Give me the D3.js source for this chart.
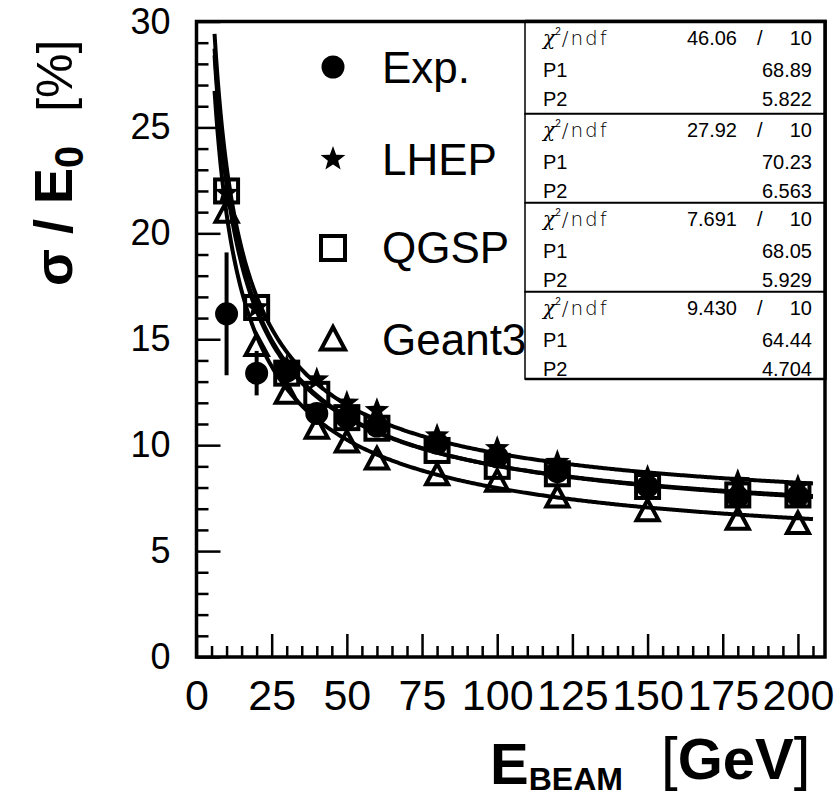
<!DOCTYPE html>
<html>
<head>
<meta charset="utf-8">
<script src="https://cdn.jsdelivr.net/npm/d3@7"></script>
<style>
  body { margin: 0; background: #fff; }
  svg { display: block; }
  text { font-family: "Liberation Sans", Arial, Helvetica, sans-serif; fill: #000; }
</style>
</head>
<body>
<div id="chart"></div>
<script>
// Energy resolution vs beam energy – data + fits
const energies   = [10, 20, 30, 40, 50, 60, 80, 100, 120, 150, 180, 200];
const expVals    = [16.2, 13.4, 13.5, 11.5, 11.3, 10.9, 10.1, 9.45, 8.75, 8.05, 7.55, 7.6];
const expErrs    = [2.9, 1.05, 0.4, 0.3, 0.25, 0.25, 0.2, 0.2, 0.2, 0.2, 0.2, 0.2];
const lhepVals   = [21.9, 16.5, 13.7, 13.1, 12.0, 11.65, 10.45, 9.85, 9.2, 8.5, 8.3, 8.05];
const qgspVals   = [22.0, 16.5, 13.4, 12.4, 11.3, 10.8, 9.75, 9.0, 8.65, 8.05, 7.65, 7.65];
const geant3Vals = [21.0, 14.7, 12.45, 10.8, 10.15, 9.35, 8.6, 8.3, 7.55, 6.9, 6.5, 6.3];

const seriesNames = ["Exp.", "LHEP", "QGSP", "Geant3"];
const chi2 = ["46.06", "27.92", "7.691", "9.430"];
const ndf  = ["10", "10", "10", "10"];
const p1   = ["68.89", "70.23", "68.05", "64.44"];
const p2   = ["5.822", "6.563", "5.929", "4.704"];

const xTicks = [0, 25, 50, 75, 100, 125, 150, 175, 200];
const yTicks = [0, 5, 10, 15, 20, 25, 30];
const fitRange = [6, 205];

const W = 834, H = 797;
const svg = d3.select("#chart").append("svg").attr("width", W).attr("height", H);

const x = d3.scaleLinear().domain([0, 209]).range([196.5, 825]);
const y = d3.scaleLinear().domain([0, 30]).range([657, 21.5]);

// ticks (inside, ROOT style)
const xMinor = d3.range(0, 209, 5).filter(v => v % 25 !== 0);
const yMinor = d3.range(0, 30, 1).filter(v => v % 5 !== 0);

svg.append("g").attr("transform", `translate(0,${y(0)})`)
  .call(d3.axisBottom(x).tickValues(xMinor).tickSize(-11).tickFormat(""))
  .call(g => g.select(".domain").remove())
  .selectAll("line").attr("stroke-width", 2.5);

svg.append("g").attr("transform", `translate(0,${y(0)})`)
  .call(d3.axisBottom(x).tickValues(xTicks).tickSize(-23).tickPadding(22).tickFormat(d3.format("d")))
  .call(g => g.select(".domain").remove())
  .call(g => g.selectAll("line").attr("stroke-width", 2.5))
  .call(g => g.selectAll("text").attr("font-size", 43).attr("font-family", null));

svg.append("g").attr("transform", `translate(${x(0)},0)`)
  .call(d3.axisLeft(y).tickValues(yMinor).tickSize(-12).tickFormat(""))
  .call(g => g.select(".domain").remove())
  .selectAll("line").attr("stroke-width", 2.5);

svg.append("g").attr("transform", `translate(${x(0)},0)`)
  .call(d3.axisLeft(y).tickValues(yTicks).tickSize(-24).tickPadding(26).tickFormat(d3.format("d")))
  .call(g => g.select(".domain").remove())
  .call(g => g.selectAll("line").attr("stroke-width", 2.5))
  .call(g => g.selectAll("text").attr("font-size", 36).attr("font-family", null));

// frame
svg.append("rect")
  .attr("x", x(0)).attr("y", y(30))
  .attr("width", x(209) - x(0)).attr("height", y(0) - y(30))
  .attr("fill", "none").attr("stroke", "#000").attr("stroke-width", 3.5);

// fit curves: sqrt(P1^2/E + P2^2)
const line = d3.line().x(d => x(d[0])).y(d => y(d[1]));
const fitE = d3.range(fitRange[0], fitRange[1] + 0.01, 0.5);
p1.forEach((a, i) => {
  const A = +a, B = +p2[i];
  const pts = fitE.map(e => [e, Math.sqrt(A * A / e + B * B)]);
  svg.append("path").attr("d", line(pts))
    .attr("fill", "none").attr("stroke", "#000").attr("stroke-width", 4);
});

// marker shapes
function starPath(R, r) {
  const pts = [];
  for (let k = 0; k < 10; k++) {
    const ang = -Math.PI / 2 + k * Math.PI / 5;
    const rad = k % 2 === 0 ? R : r;
    pts.push([rad * Math.cos(ang), rad * Math.sin(ang)]);
  }
  return "M" + pts.map(p => p.join(",")).join("L") + "Z";
}
function drawMarker(g, type, cx, cy) {
  if (type === "circle") {
    g.append("circle").attr("cx", cx).attr("cy", cy).attr("r", 11.5).attr("fill", "#000");
  } else if (type === "star") {
    g.append("path").attr("d", starPath(13, 5.4)).attr("transform", `translate(${cx},${cy})`).attr("fill", "#000");
  } else if (type === "square") {
    g.append("rect").attr("x", cx - 11.5).attr("y", cy - 11.5).attr("width", 23).attr("height", 23)
      .attr("fill", "none").attr("stroke", "#000").attr("stroke-width", 4);
  } else if (type === "triangle") {
    g.append("path").attr("d", "M0,-11L-11,9.5L11,9.5Z").attr("transform", `translate(${cx},${cy})`)
      .attr("fill", "none").attr("stroke", "#000").attr("stroke-width", 4).attr("stroke-linejoin", "miter");
  }
}

const marks = svg.append("g");
// draw order: Geant3, QGSP, LHEP, Exp
energies.forEach((e, i) => drawMarker(marks, "triangle", x(e), y(geant3Vals[i])));
energies.forEach((e, i) => drawMarker(marks, "square", x(e), y(qgspVals[i])));
energies.forEach((e, i) => drawMarker(marks, "star", x(e), y(lhepVals[i])));
energies.forEach((e, i) => {
  marks.append("line")
    .attr("x1", x(e)).attr("x2", x(e))
    .attr("y1", y(expVals[i] - expErrs[i])).attr("y2", y(expVals[i] + expErrs[i]))
    .attr("stroke", "#000").attr("stroke-width", 4);
  drawMarker(marks, "circle", x(e), y(expVals[i]));
});

// legend
const legendTypes = ["circle", "star", "square", "triangle"];
const legendBase = [83, 175, 263, 355];
const leg = svg.append("g");
seriesNames.forEach((name, i) => {
  if (legendTypes[i] === "square") {
    leg.append("rect").attr("x", 333 - 12).attr("y", legendBase[i] - 15 - 12).attr("width", 24).attr("height", 24)
      .attr("fill", "none").attr("stroke", "#000").attr("stroke-width", 4);
  } else if (legendTypes[i] === "triangle") {
    leg.append("path").attr("d", "M0,-12L-12,10.5L12,10.5Z").attr("transform", `translate(333,${legendBase[i] - 16})`)
      .attr("fill", "none").attr("stroke", "#000").attr("stroke-width", 4);
  } else {
    drawMarker(leg, legendTypes[i], 333, legendBase[i] - 16);
  }
  leg.append("text").attr("x", 382).attr("y", legendBase[i]).attr("font-size", 44).text(name);
});

// stat boxes
const boxTops = [22, 114, 203, 292, 379];
const bx0 = 525, bx1 = x(209);
const stats = svg.append("g");
chi2.forEach((c, i) => {
  const t = boxTops[i], b = boxTops[i + 1];
  stats.append("rect").attr("x", bx0).attr("y", t).attr("width", bx1 - bx0).attr("height", b - t)
    .attr("fill", "#fff").attr("stroke", "#000").attr("stroke-width", 1.5);
  stats.append("line").attr("x1", bx0).attr("x2", bx1).attr("y1", b).attr("y2", b)
    .attr("stroke", "#000").attr("stroke-width", 2.5);
  const r1 = t + 23, r2 = t + 55, r3 = t + 84;
  const chiLabel = stats.append("text").attr("x", 543).attr("y", r1).attr("font-size", 20)
    .attr("fill", "#222");
  chiLabel.append("tspan").attr("font-family", "DejaVu Serif").attr("font-style", "italic").text("χ");
  chiLabel.append("tspan").attr("font-size", 10).attr("dy", -10).text("2");
  chiLabel.append("tspan").attr("dy", 10).attr("dx", 1).attr("font-family", "DejaVu Sans")
    .attr("font-weight", 200).attr("letter-spacing", 2).text("/ndf");
  stats.append("text").attr("x", 737).attr("y", r1).attr("font-size", 20).attr("text-anchor", "end").text(c);
  stats.append("text").attr("x", 757).attr("y", r1).attr("font-size", 20).text("/");
  stats.append("text").attr("x", 812).attr("y", r1).attr("font-size", 20).attr("text-anchor", "end").text(ndf[i]);
  stats.append("text").attr("x", 543).attr("y", r2).attr("font-size", 20).text("P1");
  stats.append("text").attr("x", 812).attr("y", r2).attr("font-size", 20).attr("text-anchor", "end").text(p1[i]);
  stats.append("text").attr("x", 543).attr("y", r3).attr("font-size", 20).text("P2");
  stats.append("text").attr("x", 812).attr("y", r3).attr("font-size", 20).attr("text-anchor", "end").text(p2[i]);
});
// redraw frame edges over boxes
svg.append("line").attr("x1", bx0).attr("x2", bx1 + 1.75).attr("y1", y(30)).attr("y2", y(30))
  .attr("stroke", "#000").attr("stroke-width", 3.5);
svg.append("line").attr("x1", bx1).attr("x2", bx1).attr("y1", y(30)).attr("y2", 380)
  .attr("stroke", "#000").attr("stroke-width", 3.5);

// axis titles
const yt = svg.append("text").attr("transform", "translate(72,286) rotate(-90)").attr("font-size", 54);
yt.append("tspan").attr("font-weight", "bold").text("σ / E");
yt.append("tspan").attr("font-weight", "bold").attr("font-size", 40).attr("dy", 11).text("0");
yt.append("tspan").attr("font-size", 50).attr("dy", -11).attr("dx", 34).text("[%]");

const xt = svg.append("text").attr("x", 490).attr("y", 784).attr("font-size", 58);
xt.append("tspan").attr("font-weight", "bold").text("E");
xt.append("tspan").attr("font-weight", "bold").attr("font-size", 32).attr("dy", 6).text("BEAM");
const xu = svg.append("text").attr("x", 661).attr("y", 779).attr("font-size", 60);
xu.append("tspan").text("[");
xu.append("tspan").attr("font-weight", "bold").attr("font-size", 58).text("GeV");
xu.append("tspan").text("]");
</script>
</body>
</html>
